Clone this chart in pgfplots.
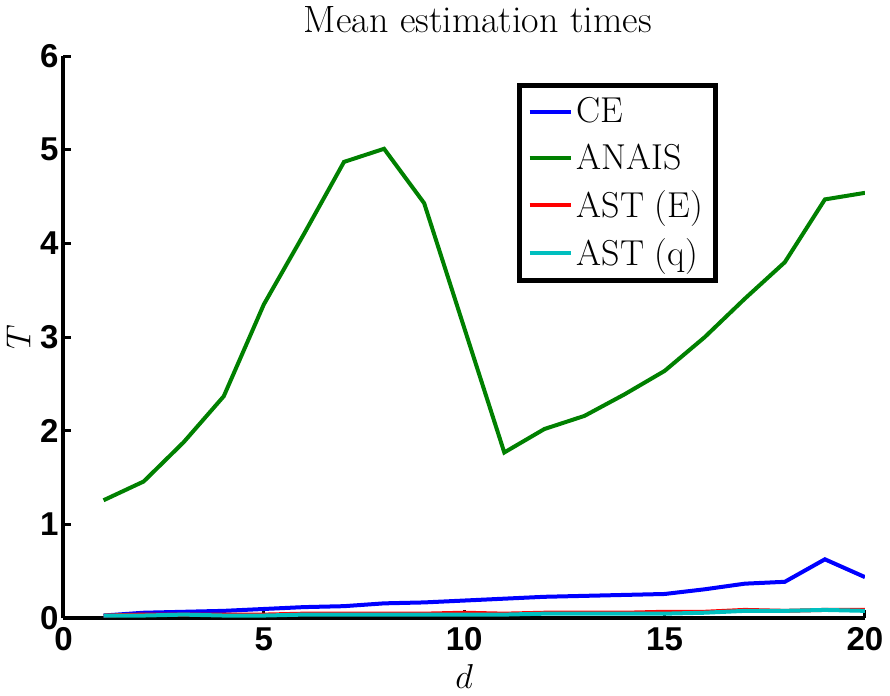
\documentclass[border=0pt]{standalone}
\usepackage{fontspec}
\usepackage{pgfplots}
\pgfplotsset{compat=1.18}
\setsansfont{Liberation Sans}
\definecolor{mblue}{rgb}{0,0,1}
\definecolor{mgreen}{rgb}{0,0.5,0}
\definecolor{mred}{rgb}{1,0,0}
\definecolor{mcyan}{rgb}{0,0.75,0.75}
\begin{document}
\begin{tikzpicture}
\begin{axis}[
  scale only axis,
  width=400.5pt, height=281pt,
  xmin=0, xmax=20, ymin=0, ymax=6,
  xtick={0,5,10,15,20}, ytick={0,1,2,3,4,5,6},
  axis x line=bottom, axis y line=left,
  axis line style={line width=2pt, -},
  tick align=inside,
  major tick length=4pt,
  tick style={line width=1.5pt, black},
  /pgf/number format/assume math mode=true,
  ticklabel style={font=\fontsize{16.5}{18}\selectfont\sffamily\bfseries},
  xticklabel style={yshift=-1pt},
  yticklabel style={xshift=1pt},
  title={Mean estimation times},
  title style={font=\fontsize{19}{22}\selectfont, at={(0.517,1)}, anchor=south, yshift=2pt},
  xlabel={$d$}, ylabel={$T$},
  label style={font=\fontsize{18}{21}\selectfont},
  xlabel style={yshift=0pt},
  ylabel style={yshift=-2pt},
  legend style={at={(0.566,0.952)}, anchor=north west, draw=black, line width=2.5pt,
    font=\fontsize{18}{22}\selectfont, inner xsep=4pt, inner ysep=4pt,
    row sep=5pt},
  legend cell align=left,
  legend image code/.code={\draw[#1] plot coordinates {(0cm,0cm) (0.72cm,0cm)};},
]
\addplot[mblue, line width=2pt] coordinates {
(1,0.03) (2,0.06) (3,0.07) (4,0.08) (5,0.10) (6,0.12) (7,0.13) (8,0.16) (9,0.17) (10,0.19)
(11,0.21) (12,0.23) (13,0.24) (14,0.25) (15,0.26) (16,0.31) (17,0.37) (18,0.39) (19,0.63) (20,0.44)};
\addlegendentry{CE}
\addplot[mgreen, line width=2pt] coordinates {
(1,1.26) (2,1.46) (3,1.88) (4,2.37) (5,3.35) (6,4.10) (7,4.87) (8,5.01) (9,4.43) (10,3.10)
(11,1.77) (12,2.02) (13,2.16) (14,2.39) (15,2.64) (16,3.00) (17,3.41) (18,3.80) (19,4.47) (20,4.54)};
\addlegendentry{ANAIS}
\addplot[mred, line width=2pt] coordinates {
(1,0.03) (2,0.04) (3,0.04) (4,0.04) (5,0.04) (6,0.05) (7,0.05) (8,0.05) (9,0.05) (10,0.06)
(11,0.05) (12,0.06) (13,0.06) (14,0.06) (15,0.07) (16,0.07) (17,0.09) (18,0.08) (19,0.09) (20,0.09)};
\addlegendentry{AST (E)}
\addplot[mcyan, line width=2pt] coordinates {
(1,0.03) (2,0.03) (3,0.04) (4,0.03) (5,0.03) (6,0.04) (7,0.04) (8,0.04) (9,0.04) (10,0.04)
(11,0.04) (12,0.05) (13,0.05) (14,0.05) (15,0.05) (16,0.06) (17,0.08) (18,0.08) (19,0.09) (20,0.08)};
\addlegendentry{AST (q)}
\end{axis}
\end{tikzpicture}
\end{document}
